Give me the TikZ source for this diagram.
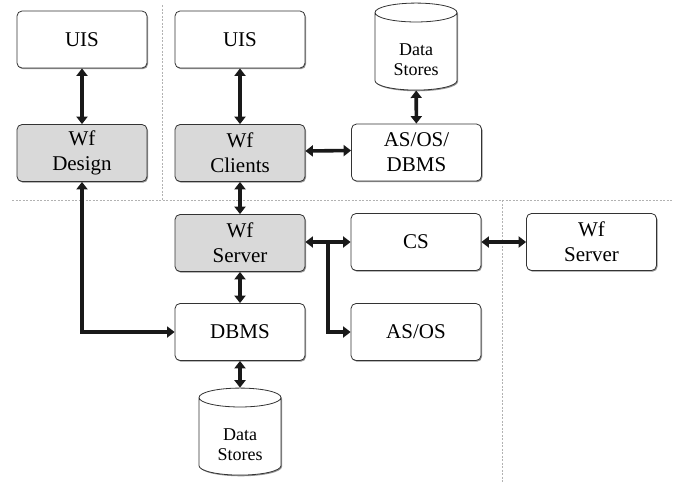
\documentclass[tikz,border=0pt]{standalone}
\usepackage{fontspec}
\setmainfont{Liberation Serif}
\usetikzlibrary{shapes.geometric,arrows.meta,shadows}
\tikzset{
  box/.style={draw=black!80, line width=0.8pt, rounded corners=5pt, fill=white,
    minimum width=130pt, minimum height=57pt, align=center,
    font=\fontsize{21}{25}\selectfont, inner sep=0pt,
    drop shadow={shadow xshift=1pt, shadow yshift=-1.2pt, opacity=0.6, fill=black!70}},
  gbox/.style={box, fill=black!15},
  store/.style={draw=black!80, line width=0.8pt, cylinder, shape border rotate=90,
    minimum width=82pt, minimum height=87pt, aspect=0.42, fill=white, inner sep=0pt,
    align=center, font=\fontsize{18}{20.5}\selectfont,
    drop shadow={shadow xshift=1pt, shadow yshift=-1.2pt, opacity=0.6, fill=black!70}},
  arr/.style={line width=3.6pt, draw=black!90, {Triangle[length=7.5pt,width=11pt]}-{Triangle[length=7.5pt,width=11pt]}},
  arrone/.style={line width=3.6pt, draw=black!90, -{Triangle[length=7.5pt,width=11pt]}},
  sep/.style={draw=black!30, line width=0.6pt, dash pattern=on 2pt off 1.5pt},
}
\begin{document}
\begin{tikzpicture}[x=1pt,y=-1pt]
\useasboundingbox (0,0) rectangle (676,483);
% separators
\draw[sep] (12,200) -- (673,200);
\draw[sep] (162,5) -- (162,200);
\draw[sep] (502,200) -- (502,483);
% nodes
\node[box]  (uis1) at (82,39.5)  {UIS};
\node[box]  (uis2) at (240,39.5) {UIS};
\node[gbox] (wfd)  at (82,153)   {Wf\\Design};
\node[gbox] (wfc)  at (240,153)  {Wf\\Clients};
\node[box]  (aod)  at (416.5,152.5) {AS/OS/\\DBMS};
\node[store] (ds1) at (416,51.5) {\vphantom{X}\\[-4pt]Data\\Stores};
\node[gbox] (wfs)  at (240,243)  {Wf\\Server};
\node[box]  (cs)   at (416,242)  {CS};
\node[box]  (wfs2) at (591.5,242) {Wf\\Server};
\node[box]  (dbms) at (240,332)  {DBMS};
\node[box]  (asos) at (416,332)  {AS/OS};
\node[store] (ds2) at (240,436.5) {\vphantom{X}\\[-4pt]Data\\Stores};
% connectors
\draw[arr] (uis1) -- (wfd);
\draw[arr] (uis2) -- (wfc);
\draw[arr] ([yshift=2pt]wfc.east) -- ([yshift=2pt]aod.west);
\draw[arr] (ds1) -- (aod);
\draw[arr] (wfc) -- (wfs);
\draw[arr] (wfs) -- (dbms);
\draw[arr] (dbms) -- (ds2);
\draw[arr] (wfd.south) |- (dbms.west);
\draw[arr] (wfs.east |- cs.west) -- (cs.west);
\draw[arr] (cs) -- (wfs2);
\coordinate (br) at (328,242);
\draw[arrone] ([yshift=-1.8pt]br) |- (asos.west);
\end{tikzpicture}
\end{document}
